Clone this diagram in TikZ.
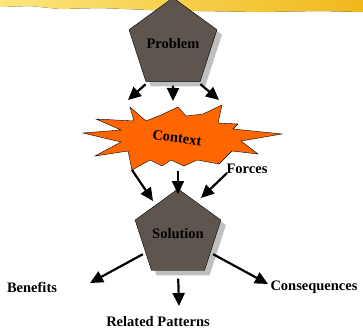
\documentclass[tikz,border=0pt]{standalone}
\usepackage{fontspec}
\setmainfont{Liberation Serif}
\usetikzlibrary{arrows.meta,shapes.geometric,shadows}
\definecolor{slate}{RGB}{94,86,78}
\definecolor{burst}{RGB}{255,102,0}
\definecolor{bandlight}{RGB}{252,230,125}
\definecolor{banddark}{RGB}{240,184,28}

\begin{document}
\begin{tikzpicture}[x=1pt,y=-1pt,
    pent/.style={regular polygon, regular polygon sides=5, minimum size=75pt,
                 inner sep=0pt, draw=black, fill=slate,
                 font=\bfseries\fontsize{14.5}{17}\selectfont,
                 drop shadow={shadow xshift=5pt, shadow yshift=-5pt, fill=black!25, opacity=1}},
    lbl/.style={font=\bfseries\fontsize{14.5}{17}\selectfont, inner sep=1pt},
    arr/.style={-{Triangle[length=13pt,width=12pt]}, line width=2.2pt}
]
\useasboundingbox (0,0) rectangle (363,331);

% brush band at the top
\fill[left color=bandlight, right color=banddark]
  (0,0) -- (363,0) -- (363,12) -- (320,11) -- (260,12) -- (200,11) -- (150,10)
  -- (100,8) -- (60,9) -- (30,6) -- (0,7) -- cycle;

% context burst
\draw[fill=burst] (83,133) -- (121,130) -- (96,119) -- (134,121) -- (130,107)
  -- (146,121) -- (161,115) -- (178,107) -- (186,116) -- (203,114) -- (222,105)
  -- (218,123) -- (238,124) -- (233,129) -- (282,134) -- (241,141) -- (258,154)
  -- (232,151) -- (219,164) -- (197,160) -- (184,166) -- (171,160) -- (162,166)
  -- (150,160) -- (132,170) -- (128,151) -- (95,156) -- (121,142) -- cycle;
\node[lbl, rotate=-7] (context) at (177,138) {Context};

\node[pent] (problem) at (173,44) {\raisebox{-6pt}{Problem}};
\node[pent] (solution) at (178,234) {\raisebox{-6pt}{Solution}};

\node[lbl] (forces) at (247,169) {Forces};
\node[lbl] (benefits) at (32,287) {Benefits};
\node[lbl] (consequences) at (314,287) {Consequences};
\node[lbl] (related) at (158,322) {Related Patterns};

% arrow tips and starts
\coordinate (p1) at (128,100);
\coordinate (p2) at (173,101);
\coordinate (p3) at (219,100);
\coordinate (c1) at (132,170);
\coordinate (c2) at (178,171);
\coordinate (c3) at (227,173);
\coordinate (s1) at (153,201);
\coordinate (s2) at (178,194);
\coordinate (s3) at (201,198);
\coordinate (b1) at (90,283);
\coordinate (r1) at (179,306);
\coordinate (q1) at (268,284);

\draw[arr, shorten <=4pt] (problem.-123) -- (p1);
\draw[arr, shorten <=4pt] (problem.south) -- (p2);
\draw[arr, shorten <=4pt] (problem.-57) -- (p3);

\draw[arr] (c1) -- (s1);
\draw[arr] (c2) -- (s2);
\draw[arr] (c3) -- (s3);

\draw[arr, shorten <=3pt] (solution.-150) -- (b1);
\draw[arr, shorten <=8pt] (solution.south) -- (r1);
\draw[arr, shorten <=3pt] (solution.-30) -- (q1);
\end{tikzpicture}
\end{document}
